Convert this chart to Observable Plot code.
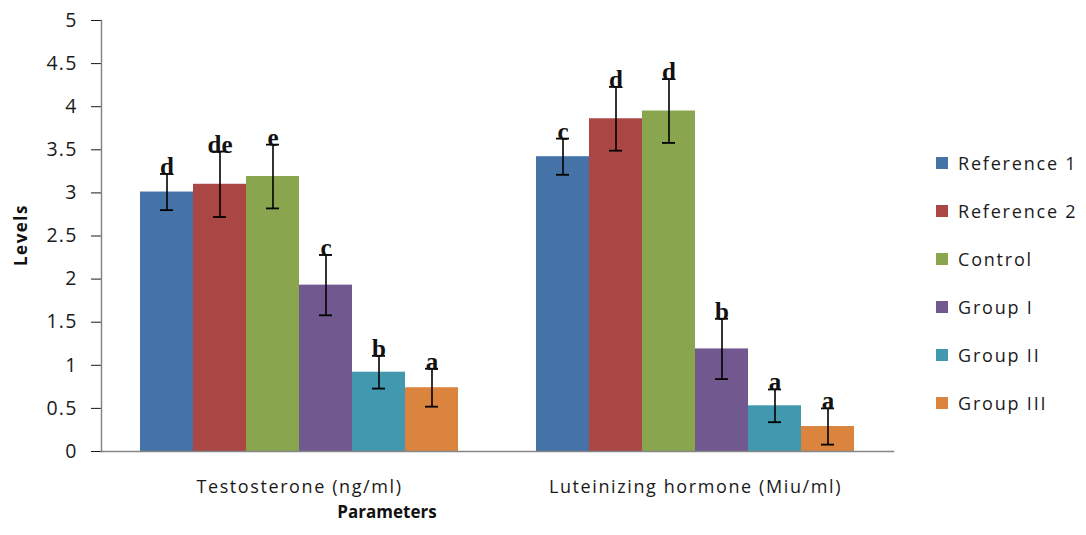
<!DOCTYPE html>
<html>
<head>
<meta charset="utf-8">
<script src="https://cdn.jsdelivr.net/npm/d3@7"></script>
<script src="https://cdn.jsdelivr.net/npm/@observablehq/plot@0.6"></script>
<style>
  body { margin: 0; background: #fff; }
  #wrap { position: relative; width: 1086px; height: 535px; font-family: "Open Sans", sans-serif; color: #222; }
  #wrap svg { position: absolute; left: 0; top: 0; }
  g[aria-label="y-axis tick label"] text { letter-spacing: 1.2px; font-size: 19.5px; }
  g[aria-label="fx-axis tick label"] text { letter-spacing: 1.6px; }
  .title { position: absolute; font-weight: bold; font-size: 17px; color: #111; white-space: nowrap; }
  #ytitle { left: 20px; top: 235px; transform: translate(-50%, -50%) rotate(-90deg); letter-spacing: 1.5px; }
  #xtitle { left: 387px; top: 511px; transform: translate(-50%, -50%); }
  #legend { position: absolute; left: 936px; top: 151px; }
  .item { display: flex; align-items: center; height: 24px; margin-bottom: 24px; font-size: 18px; letter-spacing: 1.8px; color: #1a1a1a; }
  .sw { width: 12px; height: 12px; margin-right: 10px; }
</style>
</head>
<body>
<div id="wrap"></div>
<script>
const parameters = ["Testosterone (ng/ml)", "Luteinizing hormone (Miu/ml)"];
const groups = ["Reference 1", "Reference 2", "Control", "Group I", "Group II", "Group III"];
const colors = ["#4572A7", "#AA4643", "#89A54E", "#71588F", "#4198AF", "#DB843D"];
const testosterone = [3.01, 3.10, 3.19, 1.93, 0.92, 0.74];
const testosteroneErr = [0.21, 0.38, 0.37, 0.35, 0.19, 0.22];
const testosteroneLetters = ["d", "de", "e", "c", "b", "a"];
const lh = [3.42, 3.86, 3.95, 1.19, 0.53, 0.29];
const lhErr = [0.21, 0.37, 0.37, 0.35, 0.19, 0.21];
const lhLetters = ["c", "d", "d", "b", "a", "a"];
const yTicks = [0, 0.5, 1, 1.5, 2, 2.5, 3, 3.5, 4, 4.5, 5];

const rows = [];
groups.forEach((g, i) => {
  rows.push({parameter: parameters[0], group: g, value: testosterone[i], err: testosteroneErr[i], letter: testosteroneLetters[i]});
  rows.push({parameter: parameters[1], group: g, value: lh[i], err: lhErr[i], letter: lhLetters[i]});
});
const lo = d => d.value - d.err;
const hi = d => d.value + d.err;

const chart = Plot.plot({
  width: 1086,
  height: 535,
  marginLeft: 100,
  marginRight: 193,
  marginTop: 20,
  marginBottom: 84,
  style: {fontFamily: "Open Sans", fontSize: "18px", color: "#1a1a1a", background: "transparent"},
  fx: {domain: parameters, padding: 0, label: null, tickSize: 0, tickPadding: 29},
  x: {domain: groups, paddingInner: 0, paddingOuter: 0.7, axis: null},
  y: {domain: [0, 5], ticks: yTicks, tickFormat: d => String(d), label: null, tickSize: 10, tickPadding: 14},
  color: {domain: groups, range: colors},
  marks: [
    Plot.barY(rows, {fx: "parameter", x: "group", y: "value", fill: "group"}),
    Plot.ruleX(rows, {fx: "parameter", x: "group", y1: lo, y2: hi, stroke: "#000", strokeWidth: 1.6}),
    Plot.tickY(rows, {fx: "parameter", x: "group", y: lo, stroke: "#000", strokeWidth: 1.8, insetLeft: 20, insetRight: 20}),
    Plot.tickY(rows, {fx: "parameter", x: "group", y: hi, stroke: "#000", strokeWidth: 1.8, insetLeft: 20, insetRight: 20}),
    Plot.text(rows, {fx: "parameter", x: "group", y: hi, text: "letter", lineAnchor: "bottom", dy: 1, fontFamily: "Liberation Serif", fontWeight: "bold", fontSize: 25, fill: "#111"}),
    Plot.frame({anchor: "left", facet: "super", stroke: "#868686", strokeWidth: 1.5}),
    Plot.frame({anchor: "bottom", facet: "super", stroke: "#868686", strokeWidth: 1.5})
  ]
});
chart.querySelectorAll('g[aria-label="y-axis tick"]').forEach(g => g.setAttribute("stroke", "#868686"));

const wrap = document.getElementById("wrap");
wrap.appendChild(chart);

const yt = document.createElement("div");
yt.id = "ytitle"; yt.className = "title"; yt.textContent = "Levels";
wrap.appendChild(yt);
const xt = document.createElement("div");
xt.id = "xtitle"; xt.className = "title"; xt.textContent = "Parameters";
wrap.appendChild(xt);

const legend = document.createElement("div");
legend.id = "legend";
groups.forEach((g, i) => {
  const item = document.createElement("div");
  item.className = "item";
  const sw = document.createElement("span");
  sw.className = "sw";
  sw.style.background = colors[i];
  const label = document.createElement("span");
  label.textContent = g;
  item.appendChild(sw);
  item.appendChild(label);
  legend.appendChild(item);
});
wrap.appendChild(legend);
</script>
</body>
</html>
